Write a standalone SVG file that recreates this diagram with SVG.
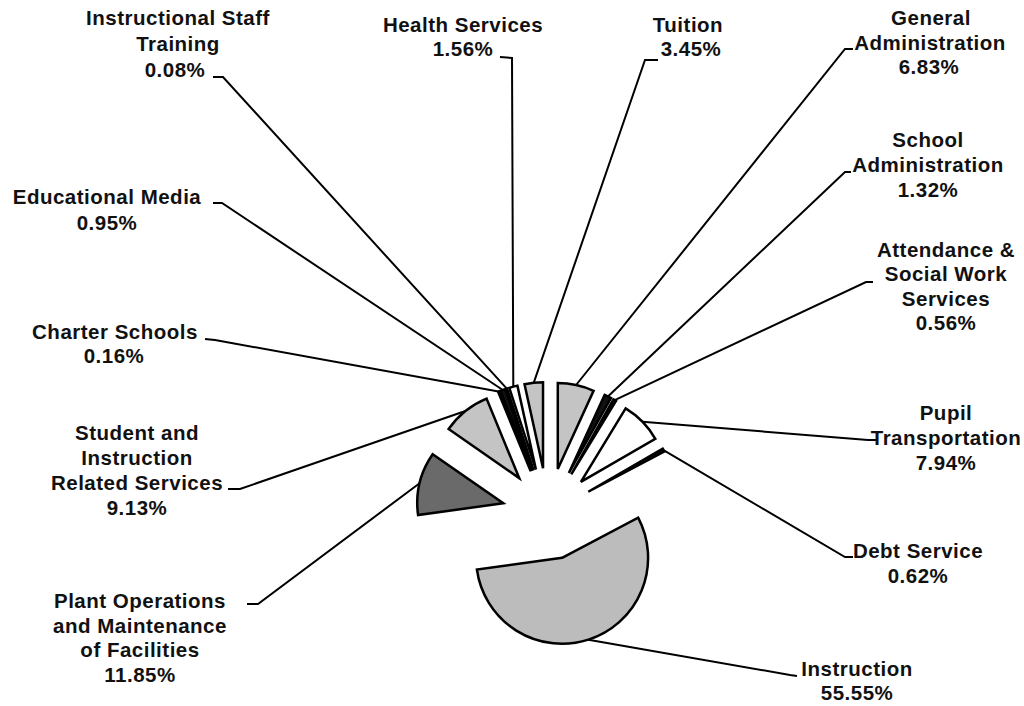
<svg xmlns="http://www.w3.org/2000/svg" width="1024" height="706" viewBox="0 0 1024 706">
<style>
.t{font-family:"Liberation Sans",Arial,sans-serif;font-weight:bold;font-size:20.5px;letter-spacing:0.5px;text-anchor:middle;fill:#111}
.s{stroke:#000;stroke-width:2.5;stroke-linejoin:miter}
.lt{fill:#c4c4c4}
.md{fill:#bcbcbc}
.dk{fill:#6a6a6a}
.bk{fill:#111}
.wh{fill:#fff}
.ld{fill:none;stroke:#000;stroke-width:2}
</style>
<rect width="1024" height="706" fill="#fff"/>
<g id="connectors">
<polyline class="ld" points="576.1,385 845,49 853,49"/>
<polyline class="ld" points="607.9,396.4 845,172 851,172"/>
<polyline class="ld" points="614.7,400.1 866,282 873,282"/>
<polyline class="ld" points="642.4,421.7 868,440 876,440"/>
<polyline class="ld" points="663.5,450.1 845,557 853,557"/>
<polyline class="ld" points="588.4,639.7 790,675 797,676"/>
<polyline class="ld" points="419.6,483.2 258,604 247,604"/>
<polyline class="ld" points="465.4,411 240,489 228,489"/>
<polyline class="ld" points="498.5,391.6 215,340 205,339"/>
<polyline class="ld" points="502.8,390 222,203 213,203"/>
<polyline class="ld" points="506.8,388.6 223,77 213,77"/>
<polyline class="ld" points="513.3,386.6 512,58 500,57"/>
<polyline class="ld" points="533.7,382.8 645,60 658,60"/>
</g>
<g id="slice-general-administration"><path class="s lt" d="M557.79,469.05 L557.79,383.05 A86,86 0 0 1 593.57,390.85 Z"/></g>
<g id="slice-school-administration"><path class="s bk" d="M568.86,473.0 L604.64,394.80 A86,86 0 0 1 611.00,398.03 Z"/></g>
<g id="slice-attendance"><path class="s bk" d="M571.24,474.30 L613.38,399.33 A86,86 0 0 1 615.99,400.86 Z"/></g>
<g id="slice-pupil-transportation"><path class="s wh" d="M580.89,481.84 L625.64,408.40 A86,86 0 0 1 655.32,438.76 Z"/></g>
<g id="slice-debt-service"><path class="s bk" d="M588.26,491.74 L662.69,448.66 A86,86 0 0 1 664.32,451.60 Z"/></g>
<g id="slice-instruction"><path class="s md" d="M562.09,557.79 L638.15,517.65 A86,86 0 1 1 476.90,569.54 Z"/></g>
<g id="slice-plant-operations"><path class="s dk" d="M503.27,503.28 L418.08,515.03 A86,86 0 0 1 432.66,454.20 Z"/></g>
<g id="slice-student-services"><path class="s lt" d="M519.21,478.12 L448.60,429.04 A86,86 0 0 1 486.55,398.56 Z"/></g>
<g id="slice-charter-schools"><path class="s wh" d="M530.75,471.36 L498.09,391.80 A86,86 0 0 1 498.89,391.48 Z"/></g>
<g id="slice-educational-media"><path class="s bk" d="M532.24,470.78 L500.38,390.90 A86,86 0 0 1 505.20,389.14 Z"/></g>
<g id="slice-staff-training"><path class="s bk" d="M533.65,470.30 L506.61,388.66 A86,86 0 0 1 507.02,388.52 Z"/></g>
<g id="slice-health-services"><path class="s wh" d="M535.92,469.61 L509.29,387.83 A86,86 0 0 1 517.42,385.62 Z"/></g>
<g id="slice-tuition"><path class="s lt" d="M543.02,468.27 L524.52,384.28 A86,86 0 0 1 543.02,382.27 Z"/></g>
<g id="label-staff-training">
<text class="t" x="178" y="25">Instructional Staff</text>
<text class="t" x="178" y="51">Training</text>
<text class="t" x="175" y="77">0.08%</text>
</g>
<g id="label-health-services">
<text class="t" x="463" y="32">Health Services</text>
<text class="t" x="463" y="56">1.56%</text>
</g>
<g id="label-tuition">
<text class="t" x="688" y="32">Tuition</text>
<text class="t" x="691" y="56">3.45%</text>
</g>
<g id="label-general-administration">
<text class="t" x="931" y="25">General</text>
<text class="t" x="930" y="50">Administration</text>
<text class="t" x="929" y="74">6.83%</text>
</g>
<g id="label-school-administration">
<text class="t" x="928" y="147">School</text>
<text class="t" x="928" y="172">Administration</text>
<text class="t" x="928" y="197">1.32%</text>
</g>
<g id="label-attendance">
<text class="t" x="946" y="257">Attendance &amp;</text>
<text class="t" x="946" y="281">Social Work</text>
<text class="t" x="946" y="306">Services</text>
<text class="t" x="946" y="330">0.56%</text>
</g>
<g id="label-pupil-transportation">
<text class="t" x="946" y="420">Pupil</text>
<text class="t" x="946" y="445">Transportation</text>
<text class="t" x="946" y="470">7.94%</text>
</g>
<g id="label-debt-service">
<text class="t" x="918" y="558">Debt Service</text>
<text class="t" x="918" y="583">0.62%</text>
</g>
<g id="label-instruction">
<text class="t" x="857" y="676">Instruction</text>
<text class="t" x="857" y="700">55.55%</text>
</g>
<g id="label-plant-operations">
<text class="t" x="140" y="608">Plant Operations</text>
<text class="t" x="140" y="633">and Maintenance</text>
<text class="t" x="140" y="657">of Facilities</text>
<text class="t" x="140" y="682">11.85%</text>
</g>
<g id="label-student-services">
<text class="t" x="137" y="440">Student and</text>
<text class="t" x="137" y="465">Instruction</text>
<text class="t" x="137" y="490">Related Services</text>
<text class="t" x="137" y="515">9.13%</text>
</g>
<g id="label-charter-schools">
<text class="t" x="115" y="339">Charter Schools</text>
<text class="t" x="114" y="363">0.16%</text>
</g>
<g id="label-educational-media">
<text class="t" x="107" y="204">Educational Media</text>
<text class="t" x="107" y="230">0.95%</text>
</g>
</svg>
